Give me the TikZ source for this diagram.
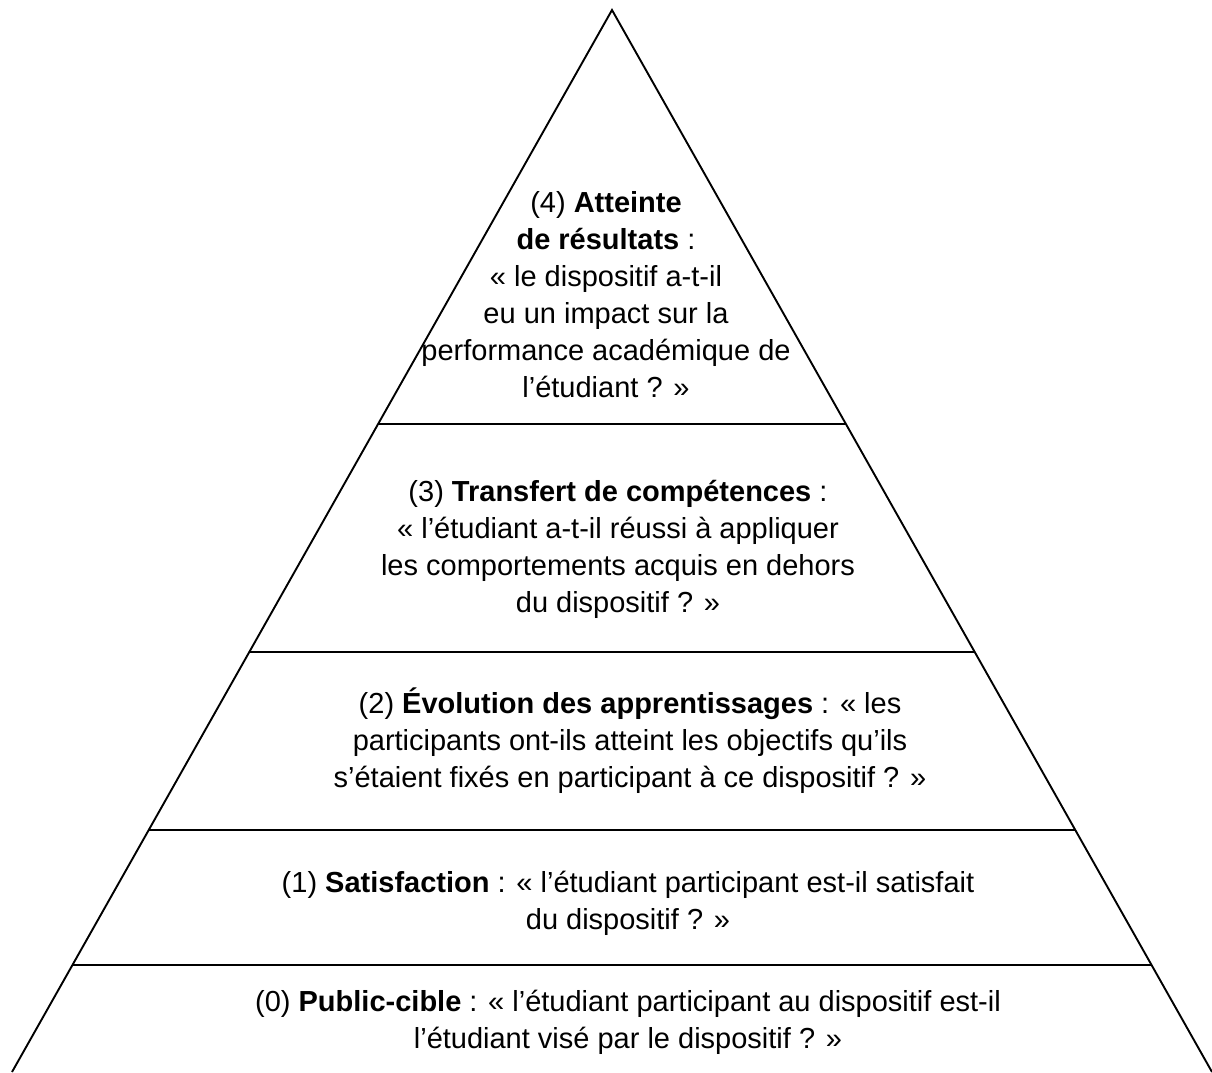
\documentclass[tikz,border=0pt]{standalone}
\usepackage{fontspec}
\setmainfont{Liberation Sans}
\usetikzlibrary{calc}
\tikzset{
  level/.style={draw,line width=1.9pt},
  blocktext/.style={align=center,font=\fontsize{29}{37}\selectfont,inner sep=0pt}
}
\begin{document}
\begin{tikzpicture}[x=1pt,y=-1pt]
\useasboundingbox (0,0) rectangle (1212,1072);
\coordinate (apex) at (612,10);
\coordinate (bl) at (12,1072);
\coordinate (br) at (1212,1072);

\path[level] (bl) -- (apex) -- (br);
\foreach \lvl/\y in {a/424,b/652,c/830,d/965} {
  \coordinate (\lvl w) at ($(apex)!{(\y-10)/1062}!(bl)$);
  \coordinate (\lvl e) at ($(apex)!{(\y-10)/1062}!(br)$);
  \path[level] (\lvl w) -- (\lvl e);
}

\node[blocktext] (res) at (606,295) {(4) \textbf{Atteinte}\\ \textbf{de résultats} :\\ « le dispositif a-t-il\\ eu un impact sur la\\ performance académique de\\ l’étudiant ? »};
\node[blocktext] (trans) at (618,549) {(3) \textbf{Transfert de compétences} :\\ « l’étudiant a-t-il réussi à appliquer\\ les comportements acquis en dehors\\ du dispositif ? »};
\node[blocktext] (evol) at (630,741) {(2) \textbf{Évolution des apprentissages} : « les\\ participants ont-ils atteint les objectifs qu’ils\\ s’étaient fixés en participant à ce dispositif ? »};
\node[blocktext] (satis) at (628,903) {(1) \textbf{Satisfaction} : « l’étudiant participant est-il satisfait\\ du dispositif ? »};
\node[blocktext] (cible) at (628,1022) {(0) \textbf{Public-cible} : « l’étudiant participant au dispositif est-il\\ l’étudiant visé par le dispositif ? »};
\end{tikzpicture}
\end{document}
